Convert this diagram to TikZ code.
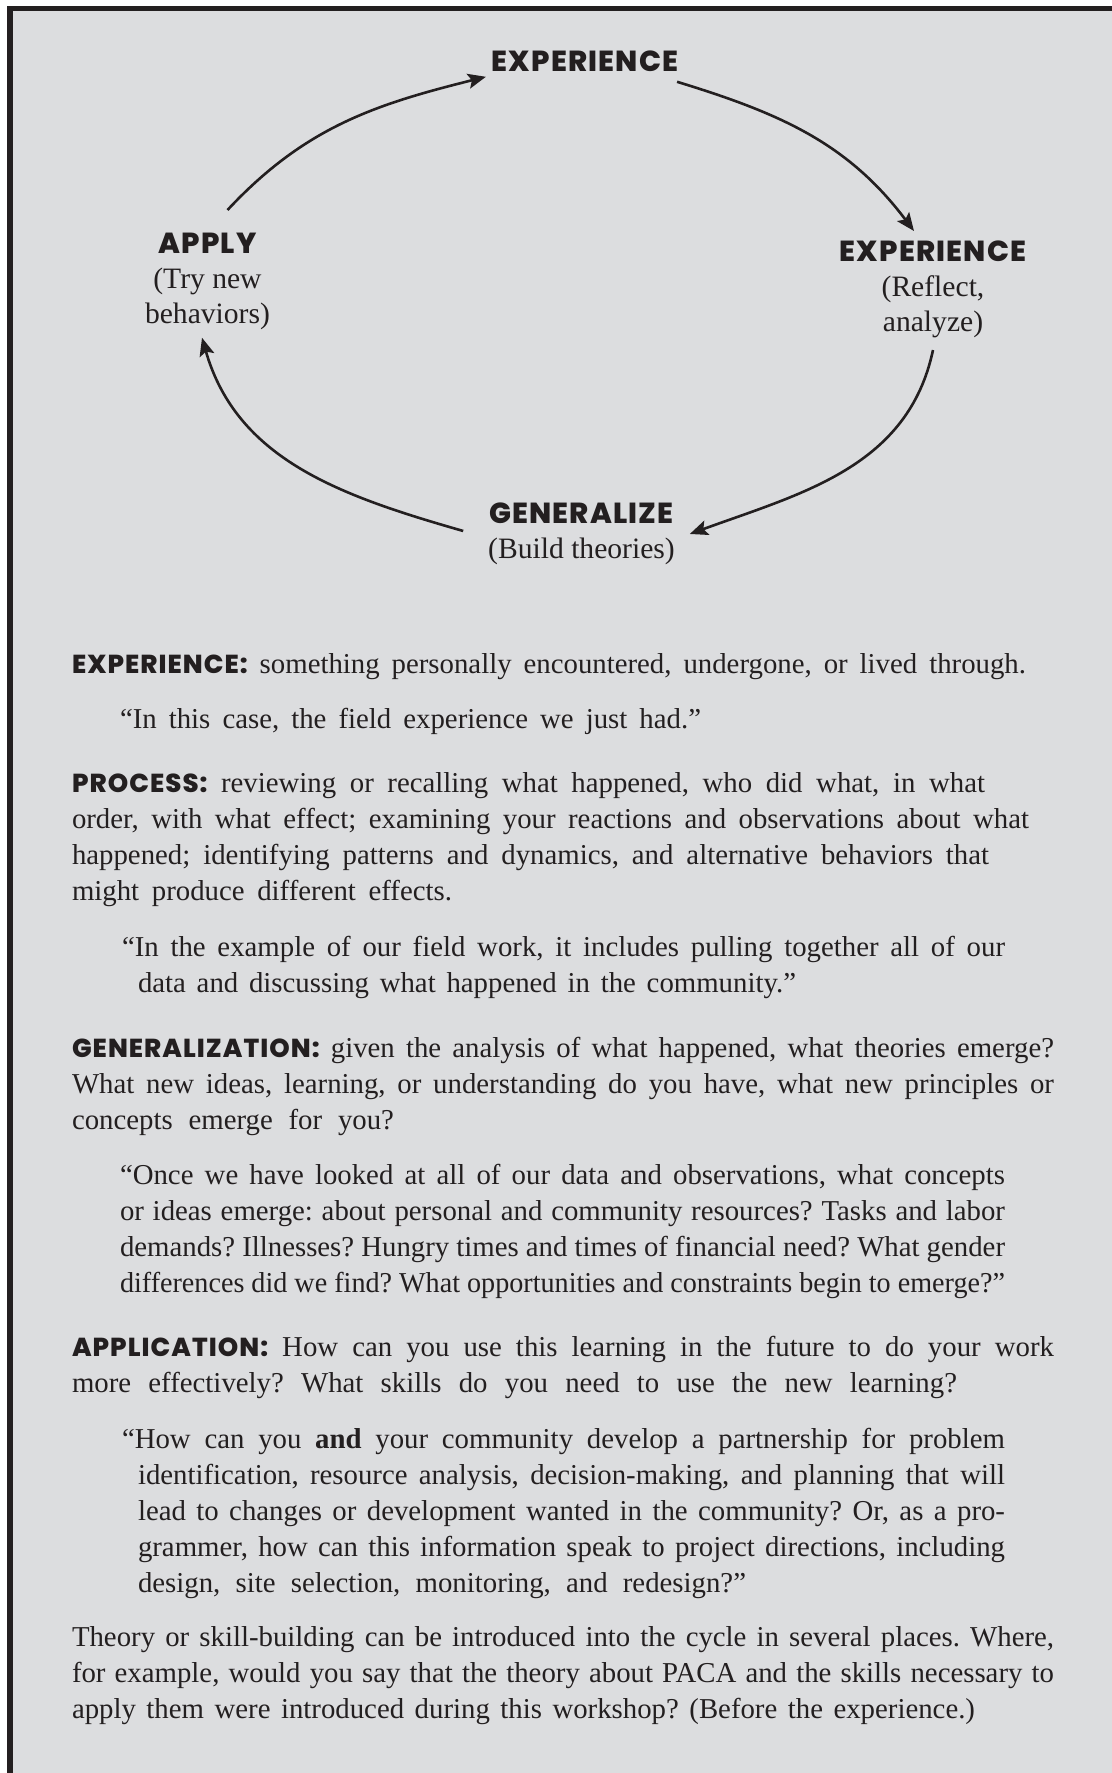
\documentclass[tikz,border=0pt]{standalone}
\usepackage{fontspec}
\usepackage{graphicx}
\setmainfont{Liberation Serif}
\newfontfamily\headfont{Poppins ExtraBold}[LetterSpace=4]
\usetikzlibrary{arrows.meta}
\definecolor{cpanel}{RGB}{220,221,223}
\definecolor{cink}{HTML}{231F20}
\frenchspacing
\newcommand{\stagehead}[1]{{\headfont\fontsize{14.5}{17.5}\selectfont #1}}
\newcommand{\termhead}[1]{{\headfont\fontsize{13}{18.1}\selectfont #1}}
% lines set to the width they have in the print
\newcommand{\fitline}[2]{\makebox[#1][s]{#2}}
\newcommand{\squeezeline}[2]{\resizebox{#1}{\height}{#2}}

\begin{document}
\begin{tikzpicture}[x=0.5pt,y=0.5pt,
    stage/.style={align=center,inner sep=0pt,outer sep=0pt,anchor=north,text=cink,
      font=\fontsize{14.8}{17.5}\selectfont},
    cyc/.style={-{Stealth[length=9pt,width=7.5pt,inset=1.8pt]},line width=1.3pt,cink},
    textpara/.style={anchor=base west,inner sep=0pt,outer sep=0pt,text width=491pt,
      align=justify,text=cink,font=\fontsize{14.4}{18.1}\selectfont},
    quotebox/.style={textpara,text width=442.5pt},
    hangquote/.style={textpara,text width=433.5pt}]
  \useasboundingbox (0,0) rectangle (1112,-1773);
  % panel with the heavy rule on top and left
  \fill[white] (0,0) rectangle (1112,-1773);
  \fill[cpanel] (13,-11) rectangle (1112,-1773);
  \fill[cink] (7,-6) rectangle (1112,-11);
  \fill[cink] (7,-6) rectangle (13,-1773);

  % the cycle
  \node[stage] (top) at (585,-51) {\stagehead{EXPERIENCE}};
  \node[stage] (right) at (933,-241) {\stagehead{EXPERIENCE}\\(Reflect,\\analyze)};
  \node[stage] (gen) at (581.5,-503) {\stagehead{GENERALIZE}\\(Build theories)};
  \node[stage] (apply) at (207.5,-233) {\stagehead{APPLY}\\(Try new\\behaviors)};

  \draw[cyc] ([xshift=10pt,yshift=11.5pt]apply.north) to[out=47,in=194] ([xshift=-3pt,yshift=-2.5pt]top.south west);
  \draw[cyc] ([xshift=-0.5pt,yshift=-5pt]top.south east) to[out=-17,in=127] ([xshift=-9.5pt,yshift=5pt]right.north);
  \draw[cyc] ([yshift=-6pt]right.south) to[out=-102,in=20] ([xshift=7.5pt]gen.east);
  \draw[cyc] ([xshift=-12.5pt,yshift=1.5pt]gen.west) to[out=164,in=286] ([xshift=-2.75pt,yshift=-4pt]apply.south);

  % definitions
  \node[textpara] (pexp) at (72,-673) {\fitline{477pt}{\termhead{EXPERIENCE:} something personally encountered, undergone, or lived through.}};
  \node[quotebox] (qexp) at (120,-728) {\fitline{290.5pt}{``In this case, the field experience we just had.''}};

  \node[textpara] (pproc) at (72,-792) {\fitline{456.5pt}{\termhead{PROCESS:} reviewing or recalling what happened, who did what, in what}\newline
    \fitline{478.5pt}{order, with what effect; examining your reactions and observations about what}\newline
    \fitline{458.5pt}{happened; identifying patterns and dynamics, and alternative behaviors that}\newline
    \fitline{190pt}{might produce different effects.}};
  \node[hangquote] (qproc) at (138,-956) {\hspace*{-8pt}``In the example of our field work, it includes pulling together all of our\linebreak
    \fitline{329pt}{data and discussing what happened in the community.''}};

  \node[textpara] (pgen) at (72,-1057) {\termhead{GENERALIZATION:} given the analysis of what happened, what theories emerge?\linebreak
    What new ideas, learning, or understanding do you have, what new principles or\linebreak
    \fitline{161pt}{concepts emerge for you?}};
  \node[quotebox] (qgen) at (120,-1184) {``Once we have looked at all of our data and observations, what concepts\linebreak
    or ideas emerge: about personal and community resources? Tasks and labor\linebreak
    demands? Illnesses? Hungry times and times of financial need? What gender\linebreak
    \squeezeline{442.5pt}{differences did we find? What opportunities and constraints begin to emerge?''}};

  \node[textpara] (papp) at (72,-1356) {\termhead{APPLICATION:} How can you use this learning in the future to do your work\linebreak
    \fitline{442.5pt}{more effectively? What skills do you need to use the new learning?}};
  \node[hangquote] (qapp) at (138,-1448) {\hspace*{-8pt}``How can you \textbf{and} your community develop a partnership for problem\linebreak
    identification, resource analysis, decision-making, and planning that will\linebreak
    lead to changes or development wanted in the community? Or, as a pro-\linebreak
    grammer, how can this information speak to project directions, including\linebreak
    \fitline{304pt}{design, site selection, monitoring, and redesign?''}};

  \node[textpara] (ptheory) at (72,-1646) {Theory or skill-building can be introduced into the cycle in several places. Where,\linebreak
    for example, would you say that the theory about PACA and the skills necessary to\linebreak
    \fitline{451.5pt}{apply them were introduced during this workshop? (Before the experience.)}};
\end{tikzpicture}
\end{document}
